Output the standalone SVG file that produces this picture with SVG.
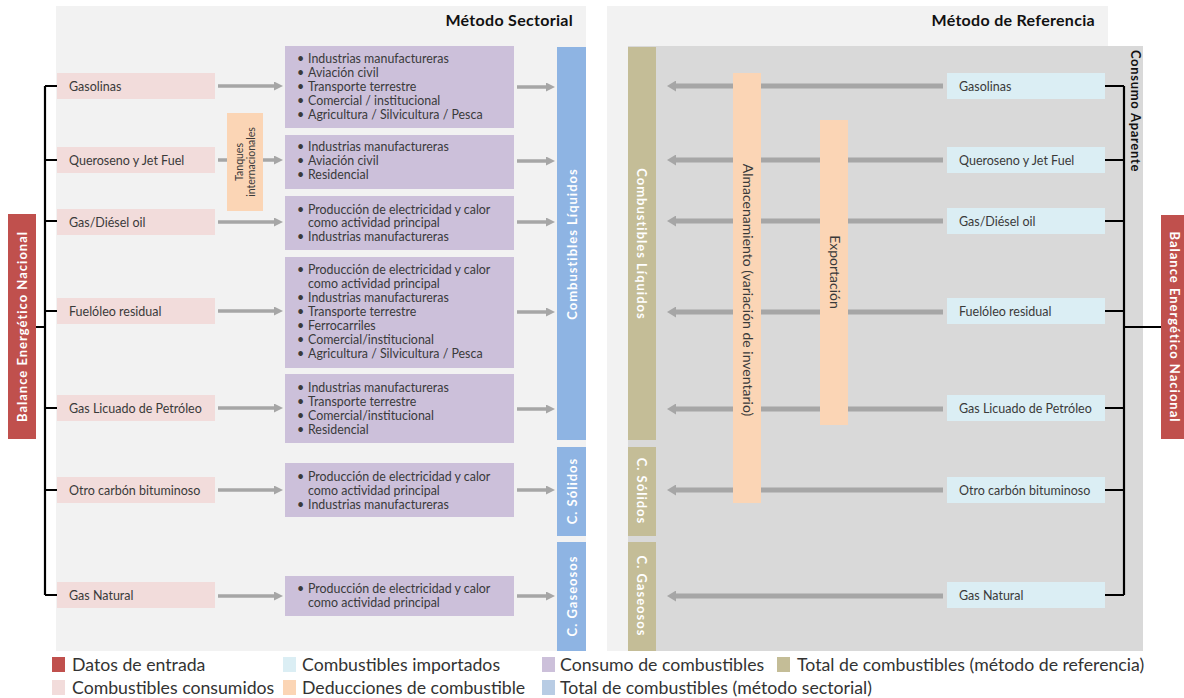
<svg xmlns="http://www.w3.org/2000/svg" width="1184" height="698" viewBox="0 0 1184 698">
<style>
text{font-family:Lato,"Open Sans","Liberation Sans",sans-serif;fill:#3a3a3a}
.lbl{font-size:12.5px}
.itm{font-size:12.4px}
.ded{font-size:14px}
.hdr{font-size:16px;font-weight:bold;fill:#111;letter-spacing:0.3px}
.wb{font-size:13px;font-weight:bold;fill:#fff;letter-spacing:1px}
.bb{font-size:13px;font-weight:bold;fill:#111;letter-spacing:0.7px}
.lg{font-size:17.7px;fill:#333}
.pink{fill:#f2dcdb}
.ltblue{fill:#dbeef4}
.purple{fill:#ccc0da}
.peach{fill:#fbd5b5}
.blue{fill:#8eb4e3}
.olive{fill:#c4bd97}
.red{fill:#c0504d}
.arr{stroke:#a6a6a6;stroke-width:3.5;fill:none}
.arrR{stroke:#a6a6a6;stroke-width:5;fill:none}
.br{stroke:#000;stroke-width:2.2;fill:none}
</style>
<defs>
<marker id="ah" markerUnits="userSpaceOnUse" markerWidth="9" markerHeight="9" refX="0" refY="4.5" orient="auto"><path d="M0,0 L9,4.5 L0,9 z" fill="#a6a6a6"/></marker>
<marker id="ahR" markerUnits="userSpaceOnUse" markerWidth="9" markerHeight="11" refX="0" refY="5.5" orient="auto"><path d="M0,0 L9,5.5 L0,11 z" fill="#a6a6a6"/></marker>
</defs>

<!-- panels -->
<g id="panel-sectorial">
<rect x="56" y="6" width="530" height="645" fill="#f2f2f2"/>
<text class="hdr" x="573" y="26" text-anchor="end">Método Sectorial</text>
</g>
<g id="panel-referencia">
<rect x="607" y="6" width="501" height="645" fill="#f2f2f2"/>
<rect x="628" y="46" width="515" height="605" fill="#d9d9d9"/>
<text class="hdr" x="1095" y="26" text-anchor="end">Método de Referencia</text>
</g>

<!-- connectors -->
<g id="connectors">
<g id="arrows-left">
<line class="arr" x1="218" y1="86" x2="274" y2="86" marker-end="url(#ah)"/>
<line class="arr" x1="218" y1="160" x2="274" y2="160" marker-end="url(#ah)"/>
<line class="arr" x1="218" y1="222" x2="274" y2="222" marker-end="url(#ah)"/>
<line class="arr" x1="218" y1="311" x2="274" y2="311" marker-end="url(#ah)"/>
<line class="arr" x1="218" y1="408" x2="274" y2="408" marker-end="url(#ah)"/>
<line class="arr" x1="218" y1="490" x2="274" y2="490" marker-end="url(#ah)"/>
<line class="arr" x1="218" y1="596" x2="274" y2="596" marker-end="url(#ah)"/>
<line class="arr" x1="517" y1="87" x2="546" y2="87" marker-end="url(#ah)"/>
<line class="arr" x1="517" y1="161" x2="546" y2="161" marker-end="url(#ah)"/>
<line class="arr" x1="517" y1="222" x2="546" y2="222" marker-end="url(#ah)"/>
<line class="arr" x1="517" y1="312" x2="546" y2="312" marker-end="url(#ah)"/>
<line class="arr" x1="517" y1="409" x2="546" y2="409" marker-end="url(#ah)"/>
<line class="arr" x1="517" y1="490" x2="546" y2="490" marker-end="url(#ah)"/>
<line class="arr" x1="517" y1="596" x2="546" y2="596" marker-end="url(#ah)"/>
</g>
<g id="arrows-right">
<line class="arrR" x1="943" y1="86" x2="676" y2="86" marker-end="url(#ahR)"/>
<line class="arrR" x1="943" y1="160" x2="676" y2="160" marker-end="url(#ahR)"/>
<line class="arrR" x1="943" y1="221" x2="676" y2="221" marker-end="url(#ahR)"/>
<line class="arrR" x1="943" y1="312" x2="676" y2="312" marker-end="url(#ahR)"/>
<line class="arrR" x1="943" y1="409" x2="676" y2="409" marker-end="url(#ahR)"/>
<line class="arrR" x1="943" y1="490" x2="676" y2="490" marker-end="url(#ahR)"/>
<line class="arrR" x1="943" y1="596" x2="676" y2="596" marker-end="url(#ahR)"/>
</g>
<g id="bracket-left">
<path class="br" d="M45,86 V595"/>
<path class="br" d="M45,86 H57 M45,160 H57 M45,221 H57 M45,311 H57 M45,408 H57 M45,490 H57 M45,595 H57 M36,327 H45"/>
</g>
<g id="bracket-right">
<path class="br" d="M1124,86 V595"/>
<path class="br" d="M1105,86 H1124 M1105,160 H1124 M1105,221 H1124 M1105,311 H1124 M1105,408 H1124 M1105,490 H1124 M1105,595 H1124 M1124,327 H1161"/>
</g>
</g>

<!-- left side nodes -->
<g id="ben-left"><rect class="red" x="8" y="214" width="28" height="225"/>
<text class="wb" transform="translate(27,326.5) rotate(-90)" text-anchor="middle">Balance Energético Nacional</text></g>

<g id="in-gasolinas"><rect class="pink" x="57" y="73" width="158" height="26"/><text class="lbl" x="69" y="90.5">Gasolinas</text></g>
<g id="in-queroseno"><rect class="pink" x="57" y="147" width="158" height="26"/><text class="lbl" x="69" y="164.5">Queroseno y Jet Fuel</text></g>
<g id="in-diesel"><rect class="pink" x="57" y="209" width="158" height="26"/><text class="lbl" x="69" y="226.5">Gas/Diésel oil</text></g>
<g id="in-fueloleo"><rect class="pink" x="57" y="298" width="158" height="26"/><text class="lbl" x="69" y="315.5">Fuelóleo residual</text></g>
<g id="in-glp"><rect class="pink" x="57" y="395" width="158" height="26"/><text class="lbl" x="69" y="412.5">Gas Licuado de Petróleo</text></g>
<g id="in-carbon"><rect class="pink" x="57" y="477" width="158" height="26"/><text class="lbl" x="69" y="494.5">Otro carbón bituminoso</text></g>
<g id="in-gasnatural"><rect class="pink" x="57" y="582" width="158" height="26"/><text class="lbl" x="69" y="599.5">Gas Natural</text></g>

<g id="tanques"><rect class="peach" x="227" y="113" width="36" height="98"/>
<text style="font-size:10.5px" transform="translate(243,162) rotate(-90)" text-anchor="middle">Tanques</text>
<text style="font-size:10.5px" transform="translate(255,162) rotate(-90)" text-anchor="middle">internacionales</text></g>

<!-- consumption boxes -->
<g id="cons-1"><rect class="purple" x="285" y="46" width="229" height="82"/>
<text class="itm"><tspan x="297" y="63.3">•</tspan><tspan x="308" y="63.3">Industrias manufactureras</tspan><tspan x="297" y="77.3">•</tspan><tspan x="308" y="77.3">Aviación civil</tspan><tspan x="297" y="91.3">•</tspan><tspan x="308" y="91.3">Transporte terrestre</tspan><tspan x="297" y="105.3">•</tspan><tspan x="308" y="105.3">Comercial / institucional</tspan><tspan x="297" y="119.3">•</tspan><tspan x="308" y="119.3">Agricultura / Silvicultura / Pesca</tspan></text></g>
<g id="cons-2"><rect class="purple" x="285" y="135" width="229" height="54"/>
<text class="itm"><tspan x="297" y="151.3">•</tspan><tspan x="308" y="151.3">Industrias manufactureras</tspan><tspan x="297" y="165">•</tspan><tspan x="308" y="165">Aviación civil</tspan><tspan x="297" y="179.3">•</tspan><tspan x="308" y="179.3">Residencial</tspan></text></g>
<g id="cons-3"><rect class="purple" x="285" y="196" width="229" height="54"/>
<text class="itm"><tspan x="297" y="213.7">•</tspan><tspan x="308" y="213.7">Producción de electricidad y calor</tspan><tspan x="308" y="226.7">como actividad principal</tspan><tspan x="297" y="240.7">•</tspan><tspan x="308" y="240.7">Industrias manufactureras</tspan></text></g>
<g id="cons-4"><rect class="purple" x="285" y="257" width="229" height="111"/>
<text class="itm"><tspan x="297" y="274">•</tspan><tspan x="308" y="274">Producción de electricidad y calor</tspan><tspan x="308" y="288">como actividad principal</tspan><tspan x="297" y="302">•</tspan><tspan x="308" y="302">Industrias manufactureras</tspan><tspan x="297" y="316">•</tspan><tspan x="308" y="316">Transporte terrestre</tspan><tspan x="297" y="330">•</tspan><tspan x="308" y="330">Ferrocarriles</tspan><tspan x="297" y="344">•</tspan><tspan x="308" y="344">Comercial/institucional</tspan><tspan x="297" y="358">•</tspan><tspan x="308" y="358">Agricultura / Silvicultura / Pesca</tspan></text></g>
<g id="cons-5"><rect class="purple" x="285" y="374" width="229" height="69"/>
<text class="itm"><tspan x="297" y="392">•</tspan><tspan x="308" y="392">Industrias manufactureras</tspan><tspan x="297" y="406">•</tspan><tspan x="308" y="406">Transporte terrestre</tspan><tspan x="297" y="420">•</tspan><tspan x="308" y="420">Comercial/institucional</tspan><tspan x="297" y="434">•</tspan><tspan x="308" y="434">Residencial</tspan></text></g>
<g id="cons-6"><rect class="purple" x="285" y="463" width="229" height="54"/>
<text class="itm"><tspan x="297" y="481">•</tspan><tspan x="308" y="481">Producción de electricidad y calor</tspan><tspan x="308" y="494.5">como actividad principal</tspan><tspan x="297" y="508.5">•</tspan><tspan x="308" y="508.5">Industrias manufactureras</tspan></text></g>
<g id="cons-7"><rect class="purple" x="285" y="576" width="229" height="40"/>
<text class="itm"><tspan x="297" y="593">•</tspan><tspan x="308" y="593">Producción de electricidad y calor</tspan><tspan x="308" y="607">como actividad principal</tspan></text></g>

<!-- sectorial totals -->
<g id="sec-liquidos"><rect class="blue" x="557" y="47" width="29" height="393"/>
<text class="wb" transform="translate(576.5,244) rotate(-90)" text-anchor="middle">Combustibles Líquidos</text></g>
<g id="sec-solidos"><rect class="blue" x="557" y="447" width="29" height="89"/>
<text class="wb" transform="translate(576.5,491) rotate(-90)" text-anchor="middle">C. Sólidos</text></g>
<g id="sec-gaseosos"><rect class="blue" x="557" y="542" width="29" height="109"/>
<text class="wb" transform="translate(576.5,596) rotate(-90)" text-anchor="middle">C. Gaseosos</text></g>

<!-- reference totals -->
<g id="ref-liquidos"><rect class="olive" x="628" y="47" width="28" height="393"/>
<text class="wb" transform="translate(637,244) rotate(90)" text-anchor="middle">Combustibles Líquidos</text></g>
<g id="ref-solidos"><rect class="olive" x="628" y="447" width="28" height="89"/>
<text class="wb" transform="translate(637,491) rotate(90)" text-anchor="middle">C. Sólidos</text></g>
<g id="ref-gaseosos"><rect class="olive" x="628" y="542" width="28" height="109"/>
<text class="wb" transform="translate(637,596) rotate(90)" text-anchor="middle">C. Gaseosos</text></g>

<!-- deductions -->
<g id="almacenamiento"><rect class="peach" x="733" y="73" width="28" height="430"/>
<text class="ded" transform="translate(742.5,290) rotate(90)" text-anchor="middle">Almacenamiento (variación de inventario)</text></g>
<g id="exportacion"><rect class="peach" x="820" y="120" width="28" height="305"/>
<text class="ded" transform="translate(829.5,272) rotate(90)" text-anchor="middle">Exportación</text></g>

<!-- imported fuels -->
<g id="imp-gasolinas"><rect class="ltblue" x="947" y="73" width="158" height="26"/><text class="lbl" x="959" y="90.5">Gasolinas</text></g>
<g id="imp-queroseno"><rect class="ltblue" x="947" y="147" width="158" height="26"/><text class="lbl" x="959" y="164.5">Queroseno y Jet Fuel</text></g>
<g id="imp-diesel"><rect class="ltblue" x="947" y="208" width="158" height="26"/><text class="lbl" x="959" y="225.5">Gas/Diésel oil</text></g>
<g id="imp-fueloleo"><rect class="ltblue" x="947" y="298" width="158" height="26"/><text class="lbl" x="959" y="315.5">Fuelóleo residual</text></g>
<g id="imp-glp"><rect class="ltblue" x="947" y="395" width="158" height="26"/><text class="lbl" x="959" y="412.5">Gas Licuado de Petróleo</text></g>
<g id="imp-carbon"><rect class="ltblue" x="947" y="477" width="158" height="26"/><text class="lbl" x="959" y="494.5">Otro carbón bituminoso</text></g>
<g id="imp-gasnatural"><rect class="ltblue" x="947" y="582" width="158" height="26"/><text class="lbl" x="959" y="599.5">Gas Natural</text></g>

<g id="consumo-aparente"><text class="bb" transform="translate(1131,111) rotate(90)" text-anchor="middle">Consumo Aparente</text></g>

<g id="ben-right"><rect class="red" x="1161" y="215" width="23" height="224"/>
<text class="wb" transform="translate(1169.5,327) rotate(90)" text-anchor="middle">Balance Energético Nacional</text></g>

<!-- legend -->
<g id="legend">
<rect x="52" y="657" width="13" height="15" fill="#c0504d"/><text class="lg" x="72" y="670.5">Datos de entrada</text>
<rect x="52" y="680" width="13" height="15" fill="#f2dcdb"/><text class="lg" x="72" y="693.5">Combustibles consumidos</text>
<rect x="283" y="657" width="13" height="15" fill="#dbeef4"/><text class="lg" x="302" y="670.5">Combustibles importados</text>
<rect x="283" y="680" width="13" height="15" fill="#fbd5b5"/><text class="lg" x="302" y="693.5">Deducciones de combustible</text>
<rect x="542" y="657" width="13" height="15" fill="#ccc0da"/><text class="lg" x="560" y="670.5">Consumo de combustibles</text>
<rect x="542" y="680" width="13" height="15" fill="#b8cce4"/><text class="lg" x="560" y="693.5">Total de combustibles (método sectorial)</text>
<rect x="777" y="657" width="13" height="15" fill="#c4bd97"/><text class="lg" x="797" y="670.5">Total de combustibles (método de referencia)</text>
</g>
</svg>
